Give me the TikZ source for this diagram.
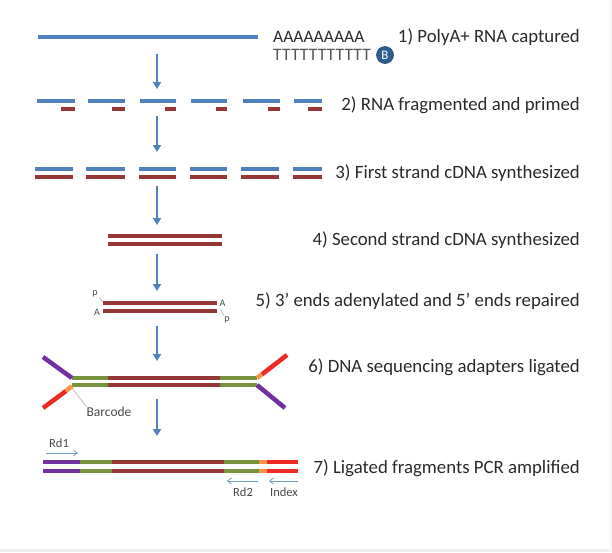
\documentclass[tikz,border=0pt]{standalone}
\usepackage{fontspec}
\setmainfont{Carlito}
\usetikzlibrary{arrows.meta}
\definecolor{rnablue}{HTML}{4F81BD}
\definecolor{dnared}{HTML}{953735}
\definecolor{adgreen}{HTML}{77933C}
\definecolor{adpurple}{HTML}{7030A0}
\definecolor{adred}{HTML}{EE2A24}
\definecolor{adorange}{HTML}{F79646}
\definecolor{bdark}{HTML}{2F5F90}
\definecolor{txt}{HTML}{2A2A2A}
\begin{document}
\begin{tikzpicture}[x=1pt,y=-1pt,
  rna/.style={rnablue,line width=4pt},
  dna/.style={dnared,line width=4pt},
  seg/.style={line width=4.5pt},
  flow/.style={rnablue,line width=2pt,-{Triangle[width=8pt,length=7pt]}},
  steplabel/.style={anchor=east,inner sep=0pt,text=txt,font=\fontsize{18.8}{20}\selectfont},
  seqtext/.style={anchor=west,inner sep=0pt,text=txt,font=\fontsize{17.5}{19}\selectfont},
  smalltext/.style={inner sep=0pt,text=txt!85,font=\fontsize{12.5}{14}\selectfont},
  tinytext/.style={inner sep=0pt,text=txt!85,font=\fontsize{10}{11}\selectfont},
  thin gray/.style={gray!70,line width=0.6pt},
  readarrow/.style={rnablue!80,line width=0.7pt,-{Straight Barb[length=4pt,width=6pt]}}
]
\useasboundingbox (0,0) rectangle (612,552);
\fill[gray!12] (0,549) rectangle (612,552);
\fill[gray!8] (610,0) rectangle (612,552);

% ---------- step 1
\coordinate (r1a) at (38,37);
\coordinate (r1b) at (258,37);
\draw[rna] (r1a) -- (r1b);
\node[seqtext] (polyA) at (273,37) {AAAAAAAAA};
\node[seqtext,text=txt!80] (polyT) at (273,55) {T\kern0.4pt T\kern0.4pt T\kern0.4pt T\kern0.4pt T\kern0.4pt T\kern0.4pt T\kern0.4pt T\kern0.4pt T\kern0.4pt T\kern0.4pt T};
\node[circle,fill=bdark,draw=bdark!70!black,line width=0.6pt,inner sep=0pt,minimum size=17pt,
      text=white,font=\fontsize{13}{13}\selectfont] (bead) at (385,55) {B};
\node[steplabel] (l1) at (580,37) {1) PolyA+ RNA captured};

% arrows
\coordinate (a1s) at (157,54);  \coordinate (a1e) at (157,89);
\coordinate (a2s) at (157,116); \coordinate (a2e) at (157,152);
\coordinate (a3s) at (157,186); \coordinate (a3e) at (157,225);
\coordinate (a4s) at (157,254); \coordinate (a4e) at (157,291);
\coordinate (a5s) at (157,326); \coordinate (a5e) at (157,361);
\coordinate (a6s) at (157,399); \coordinate (a6e) at (157,436);
\foreach \i in {1,...,6} {\draw[flow] (a\i s) -- (a\i e);}

% ---------- step 2
\foreach \bs/\be/\rs in {37/75/61, 88/125/112, 140/176/165, 191/227/216, 243/280/268, 294/322/308} {
  \draw[rna] (\bs,101) -- (\be,101);
  \draw[dna] (\rs,108.5) -- (\be,108.5);
}
\node[steplabel] (l2) at (580,105) {2) RNA fragmented and primed};

% ---------- step 3
\foreach \bs/\be in {35/73, 86/125, 139/176, 190/227, 241/279, 293/322} {
  \draw[rna] (\bs,169) -- (\be,169);
  \draw[dna] (\bs,177) -- (\be,177);
}
\node[steplabel] (l3) at (580,173) {3) First strand cDNA synthesized};

% ---------- step 4
\draw[dna] (108,236) -- (222,236);
\draw[dna] (108,244) -- (222,244);
\node[steplabel] (l4) at (580,240) {4) Second strand cDNA synthesized};

% ---------- step 5
\draw[dna] (103,303) -- (217,303);
\draw[dna] (103,311) -- (217,311);
\node[tinytext] (p5l) at (95,294) {p};
\node[tinytext] (A5l) at (97,312) {A};
\draw[thin gray] (99.5,297) -- (102.5,302);
\node[tinytext] (A5r) at (222.5,303) {A};
\node[tinytext] (p5r) at (227,320) {p};
\draw[thin gray] (220.5,309) -- (224,316);
\node[steplabel] (l5) at (580,301) {5) 3’ ends adenylated and 5’ ends repaired};

% ---------- step 6
\foreach \y in {378,385} {
  \draw[seg,adgreen] (72,\y) -- (108,\y);
  \draw[seg,dnared] (108,\y) -- (220,\y);
  \draw[seg,adgreen] (220,\y) -- (257,\y);
}
\draw[seg,adpurple] (43,357) -- (72,378);
\draw[seg,adred] (43,408) -- (66,391);
\draw[seg,adorange] (66,391) -- (72,386);
\draw[seg,adorange] (257,378) -- (262,374.3);
\draw[seg,adred] (262,374.3) -- (287,355);
\draw[seg,adpurple] (257,385) -- (285,408);
\coordinate (bcp) at (72,388);
\node[smalltext,font=\fontsize{13.5}{15}\selectfont] (barcode) at (109,411.5) {Barcode};
\draw[thin gray,line width=0.5pt] (bcp) -- (barcode.north west);
\node[steplabel] (l6) at (580,367) {6) DNA sequencing adapters ligated};

% ---------- step 7
\foreach \y in {462,471} {
  \draw[seg,adpurple] (43,\y) -- (80,\y);
  \draw[seg,adgreen] (80,\y) -- (112,\y);
  \draw[seg,dnared] (112,\y) -- (224,\y);
  \draw[seg,adgreen] (224,\y) -- (259,\y);
  \draw[seg,adorange] (259,\y) -- (267,\y);
  \draw[seg,adred] (267,\y) -- (298,\y);
}
\node[smalltext] (rd1) at (59,443) {Rd1};
\coordinate (rd1s) at (46,453); \coordinate (rd1e) at (78,453);
\draw[readarrow] (rd1s) -- (rd1e);
\coordinate (rd2s) at (258,481); \coordinate (rd2e) at (227,481);
\draw[readarrow] (rd2s) -- (rd2e);
\node[smalltext] (rd2) at (243,492) {Rd2};
\coordinate (ixs) at (298,481); \coordinate (ixe) at (269,481);
\draw[readarrow] (ixs) -- (ixe);
\node[smalltext] (index) at (284,492) {Index};
\node[steplabel] (l7) at (580,468) {7) Ligated fragments PCR amplified};
\end{tikzpicture}
\end{document}
